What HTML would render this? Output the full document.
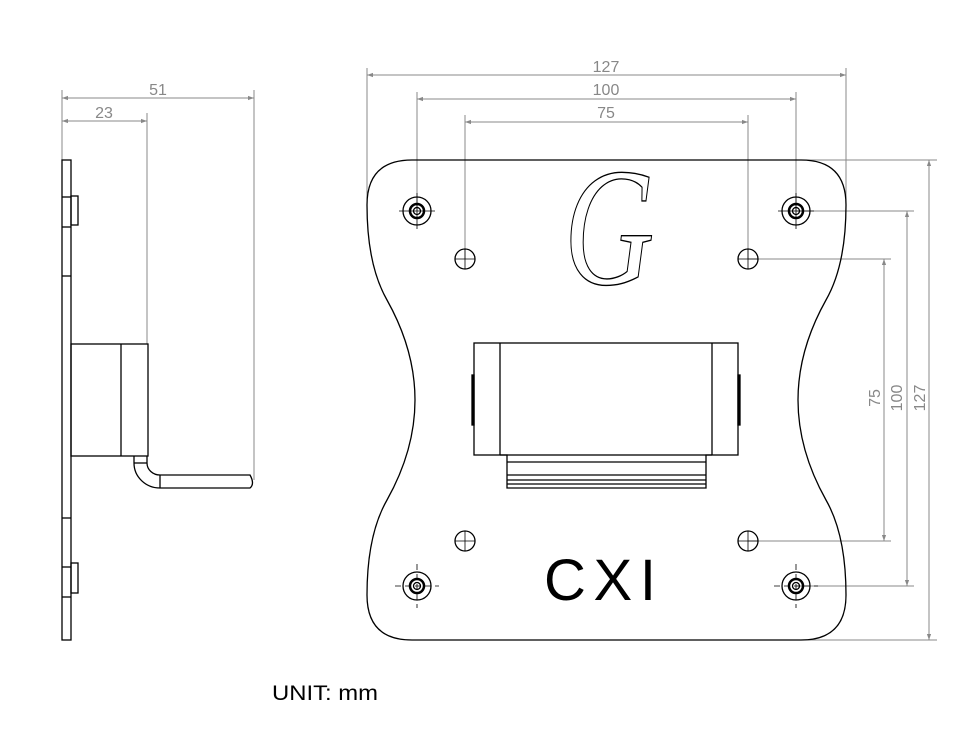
<!DOCTYPE html>
<html><head><style>
html,body{margin:0;padding:0;background:#fff;}
svg{display:block}
.k{stroke:#000;stroke-width:1.3;fill:none}
.d{stroke:#888;stroke-width:1;fill:none}
.t{fill:#888;font-family:"Liberation Sans",sans-serif;font-size:16px}
</style></head><body>
<svg width="973" height="744" viewBox="0 0 973 744" xmlns="http://www.w3.org/2000/svg">
<defs>
<marker id="a" viewBox="0 0 10 10" refX="10" refY="5" markerWidth="10" markerHeight="6" orient="auto-start-reverse" markerUnits="userSpaceOnUse"><path d="M0,1.5 L10,5 L0,8.5z" fill="#888"/></marker>
</defs>
<line class="d" x1="62" y1="90" x2="62" y2="160"/>
<line class="d" x1="147" y1="113" x2="147" y2="344"/>
<line class="d" x1="254" y1="90" x2="254" y2="480"/>
<line class="d" x1="62" y1="98" x2="254" y2="98" marker-start="url(#a)" marker-end="url(#a)"/>
<line class="d" x1="62" y1="121" x2="147" y2="121" marker-start="url(#a)" marker-end="url(#a)"/>
<text class="t" x="158" y="95" text-anchor="middle">51</text>
<text class="t" x="104" y="118" text-anchor="middle">23</text>
<rect class="k" x="62" y="160" width="9" height="480"/>
<rect class="k" x="71" y="196" width="7" height="29"/>
<rect class="k" x="71" y="563" width="7" height="30"/>
<g class="k"><line x1="62" y1="197" x2="71" y2="197"/><line x1="62" y1="227" x2="71" y2="227"/><line x1="62" y1="276" x2="71" y2="276"/><line x1="62" y1="518" x2="71" y2="518"/><line x1="62" y1="567" x2="71" y2="567"/><line x1="62" y1="597" x2="71" y2="597"/></g>
<rect class="k" x="71" y="344" width="77" height="112"/>
<line class="k" x1="121" y1="344" x2="121" y2="456"/>
<path class="k" d="M134,456 L134,463 A26,25 0 0 0 160,488 L250,488 Q255,484 250,475 L160,475 A13,12 0 0 1 147,463 L147,456"/>
<line class="k" x1="134" y1="463" x2="147" y2="463"/>
<line class="k" x1="160" y1="475" x2="160" y2="488"/>
<line class="d" x1="367" y1="68" x2="367" y2="200"/>
<line class="d" x1="846" y1="68" x2="846" y2="200"/>
<line class="d" x1="417" y1="92" x2="417" y2="211"/>
<line class="d" x1="796" y1="92" x2="796" y2="211"/>
<line class="d" x1="465" y1="115" x2="465" y2="259"/>
<line class="d" x1="748" y1="115" x2="748" y2="259"/>
<line class="d" x1="367" y1="75" x2="846" y2="75" marker-start="url(#a)" marker-end="url(#a)"/>
<line class="d" x1="417" y1="99" x2="796" y2="99" marker-start="url(#a)" marker-end="url(#a)"/>
<line class="d" x1="465" y1="122" x2="748" y2="122" marker-start="url(#a)" marker-end="url(#a)"/>
<text class="t" x="606" y="72" text-anchor="middle">127</text>
<text class="t" x="606" y="95" text-anchor="middle">100</text>
<text class="t" x="606" y="118" text-anchor="middle">75</text>
<line class="d" x1="800" y1="160" x2="937" y2="160"/>
<line class="d" x1="800" y1="640" x2="937" y2="640"/>
<line class="d" x1="796" y1="211" x2="914" y2="211"/>
<line class="d" x1="796" y1="586" x2="914" y2="586"/>
<line class="d" x1="748" y1="259" x2="891" y2="259"/>
<line class="d" x1="748" y1="541" x2="891" y2="541"/>
<line class="d" x1="929" y1="160" x2="929" y2="640" marker-start="url(#a)" marker-end="url(#a)"/>
<line class="d" x1="907" y1="211" x2="907" y2="586" marker-start="url(#a)" marker-end="url(#a)"/>
<line class="d" x1="884" y1="259" x2="884" y2="541" marker-start="url(#a)" marker-end="url(#a)"/>
<text class="t" transform="translate(880,398) rotate(-90)" text-anchor="middle">75</text>
<text class="t" transform="translate(902,398) rotate(-90)" text-anchor="middle">100</text>
<text class="t" transform="translate(925,398) rotate(-90)" text-anchor="middle">127</text>
<path class="k" d="M412,160 L801,160 Q846,160 846,205 Q846,265 826,300 Q798,350 798,400 Q798,450 826,500 Q846,535 846,595 Q846,640 801,640 L412,640 Q367,640 367,595 Q367,535 387,500 Q415,450 415,400 Q415,350 387,300 Q367,265 367,205 Q367,160 412,160 Z"/>
<g class="k">
<g transform="translate(417,211)"><circle r="14"/><circle r="7" stroke-width="2.5"/><circle r="3.5"/><line x1="-18" y1="0" x2="18" y2="0" stroke-width="0.8"/><line x1="0" y1="-18" x2="0" y2="18" stroke-width="0.8"/></g>
<g transform="translate(796,211)"><circle r="14"/><circle r="7" stroke-width="2.5"/><circle r="3.5"/><line x1="-18" y1="0" x2="18" y2="0" stroke-width="0.8"/><line x1="0" y1="-18" x2="0" y2="18" stroke-width="0.8"/></g>
<g transform="translate(417,586)"><circle r="14"/><circle r="7" stroke-width="2.5"/><circle r="3.5"/><line x1="-22" y1="0" x2="22" y2="0" stroke-width="0.8" stroke-dasharray="6,4"/><line x1="0" y1="-22" x2="0" y2="22" stroke-width="0.8" stroke-dasharray="6,4"/></g>
<g transform="translate(796,586)"><circle r="14"/><circle r="7" stroke-width="2.5"/><circle r="3.5"/><line x1="-22" y1="0" x2="22" y2="0" stroke-width="0.8" stroke-dasharray="6,4"/><line x1="0" y1="-22" x2="0" y2="22" stroke-width="0.8" stroke-dasharray="6,4"/></g>
<g transform="translate(465,259)"><circle r="10"/><line x1="-10" y1="0" x2="10" y2="0" stroke-width="0.8"/><line x1="0" y1="-10" x2="0" y2="10" stroke-width="0.8"/></g>
<g transform="translate(748,259)"><circle r="10"/><line x1="-10" y1="0" x2="10" y2="0" stroke-width="0.8"/><line x1="0" y1="-10" x2="0" y2="10" stroke-width="0.8"/></g>
<g transform="translate(465,541)"><circle r="10"/><line x1="-10" y1="0" x2="10" y2="0" stroke-width="0.8"/><line x1="0" y1="-10" x2="0" y2="10" stroke-width="0.8"/></g>
<g transform="translate(748,541)"><circle r="10"/><line x1="-10" y1="0" x2="10" y2="0" stroke-width="0.8"/><line x1="0" y1="-10" x2="0" y2="10" stroke-width="0.8"/></g>
</g>
<text transform="translate(564,284) scale(1,1.35)" font-family="'Liberation Serif',serif" font-style="italic" font-size="125" fill="#fff" stroke="#000" stroke-width="1">G</text>
<g class="k">
<rect x="474" y="343" width="264" height="112"/>
<line x1="500" y1="343" x2="500" y2="455"/>
<line x1="712" y1="343" x2="712" y2="455"/>
<path d="M500,455 L507,455 L507,488 L706,488 L706,455 L712,455"/>
<line x1="507" y1="462" x2="706" y2="462"/>
<line x1="507" y1="475" x2="706" y2="475"/>
<line x1="507" y1="480" x2="706" y2="480"/>
<line x1="507" y1="484" x2="706" y2="484"/>
<rect x="472" y="375" width="2" height="50" fill="#000"/>
<rect x="738" y="375" width="2" height="50" fill="#000"/>
</g>
<text x="544" y="600" font-family="'Liberation Sans',sans-serif" font-size="58" fill="#000" textLength="112" lengthAdjust="spacing">CXI</text>
<text x="272" y="700" font-family="'Liberation Sans',sans-serif" font-size="21" fill="#000" textLength="106" lengthAdjust="spacingAndGlyphs">UNIT: mm</text>
</svg>
</body></html>
